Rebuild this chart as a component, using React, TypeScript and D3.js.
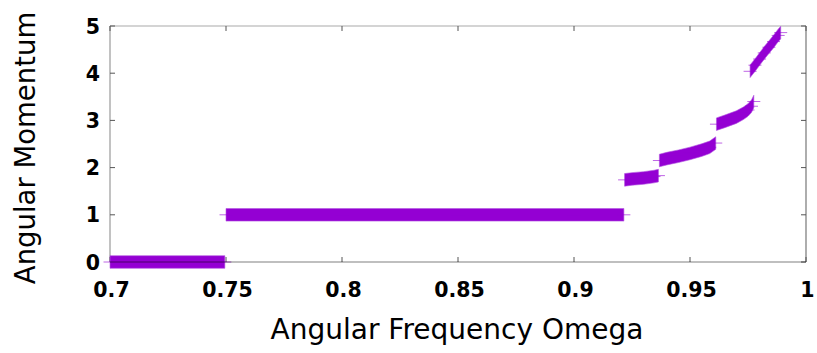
import React, { useEffect, useRef } from 'react'
import * as d3 from 'd3'

// branches of the angular momentum vs omega curve, [omega, L]
const branch0: [number, number][] = [[0.7, 0], [0.72, 0], [0.74, 0], [0.7495, 0]]
const branch1: [number, number][] = [[0.75, 1], [0.8, 1], [0.85, 1], [0.9, 1], [0.9215, 1]]
const branch2: [number, number][] = [
  [0.9218, 1.74], [0.925, 1.76], [0.93, 1.78], [0.9345, 1.81], [0.9364, 1.83],
]
const branch3: [number, number][] = [
  [0.9368, 2.15], [0.94, 2.19], [0.945, 2.24], [0.95, 2.3], [0.955, 2.37], [0.9585, 2.43], [0.9611, 2.52],
]
const branch4: [number, number][] = [
  [0.9614, 2.92], [0.965, 2.98], [0.97, 3.07], [0.973, 3.15], [0.975, 3.22], [0.9765, 3.3], [0.9775, 3.4],
]
const branch5: [number, number][] = [
  [0.9759, 4.04], [0.978, 4.17], [0.98, 4.3], [0.982, 4.43], [0.984, 4.55], [0.986, 4.67], [0.988, 4.8], [0.9891, 4.86],
]
const branches = [branch0, branch1, branch2, branch3, branch4, branch5]

const xTicks = [0.7, 0.75, 0.8, 0.85, 0.9, 0.95, 1]
const xTickLabels = ['0.7', '0.75', '0.8', '0.85', '0.9', '0.95', '1']
const yTicks = [0, 1, 2, 3, 4, 5]

const VIOLET = '#9400d3'

export default function App() {
  const ref = useRef<SVGSVGElement>(null)

  useEffect(() => {
    const svg = d3.select(ref.current)
    svg.selectAll('*').remove()

    const left = 110, right = 806, top = 26, bottom = 262
    const x = d3.scaleLinear().domain([0.7, 1]).range([left, right])
    const y = d3.scaleLinear().domain([0, 5]).range([bottom, top])

    // frame
    const frame = svg.append('g').attr('fill', 'none').attr('stroke-width', 1.2)
    frame.append('line').attr('x1', left).attr('x2', right).attr('y1', top).attr('y2', top).attr('stroke', '#aaa')
    frame.append('line').attr('x1', left).attr('x2', left).attr('y1', top).attr('y2', bottom).attr('stroke', '#999')
    frame.append('line').attr('x1', right).attr('x2', right).attr('y1', top).attr('y2', bottom).attr('stroke', '#777')

    // ticks
    const ticks = svg.append('g').attr('stroke', '#555').attr('stroke-width', 1)
    xTicks.forEach(t => {
      ticks.append('line').attr('x1', x(t)).attr('x2', x(t)).attr('y1', bottom).attr('y2', bottom - 5)
      ticks.append('line').attr('x1', x(t)).attr('x2', x(t)).attr('y1', top).attr('y2', top + 5)
    })
    yTicks.forEach(t => {
      ticks.append('line').attr('x1', left).attr('x2', left + 5).attr('y1', y(t)).attr('y2', y(t))
      ticks.append('line').attr('x1', right).attr('x2', right - 5).attr('y1', y(t)).attr('y2', y(t))
    })

    // data: dense '+' points form a band
    const area = d3.area<[number, number]>()
      .x(d => x(d[0]))
      .y0(d => y(d[1]) + 6.3)
      .y1(d => y(d[1]) - 6.3)

    const data = svg.append('g')
    branches.forEach(b => {
      data.append('path').attr('d', area(b)).attr('fill', VIOLET)
        .attr('stroke', '#b255e0').attr('stroke-width', 0.6)
      data.selectAll(null).data(b).enter().append('line')
        .attr('x1', d => x(d[0]) - 6.5).attr('x2', d => x(d[0]) + 6.5)
        .attr('y1', d => y(d[1])).attr('y2', d => y(d[1]))
        .attr('stroke', VIOLET).attr('stroke-opacity', 0.6).attr('stroke-width', 1)
    })

    // bottom border / zero axis drawn over the data
    svg.append('line').attr('x1', left).attr('x2', right).attr('y1', bottom).attr('y2', bottom)
      .attr('stroke', '#000').attr('stroke-opacity', 0.5).attr('stroke-width', 1.2)

    // tick labels
    const lab = svg.append('g').attr('font-family', 'DejaVu Sans').attr('font-weight', 'bold')
      .attr('font-size', 20.5).attr('fill', '#000')
    xTicks.forEach((t, i) => {
      lab.append('text').attr('x', x(t) + 1.5).attr('y', 297).attr('text-anchor', 'middle').text(xTickLabels[i])
    })
    yTicks.forEach(t => {
      lab.append('text').attr('x', 100).attr('y', y(t) + 7.5).attr('text-anchor', 'end').text(String(t))
    })

    // axis titles
    svg.append('text').attr('x', 457).attr('y', 339).attr('text-anchor', 'middle')
      .attr('font-family', 'DejaVu Sans').attr('font-size', 28).text('Angular Frequency Omega')
    svg.append('text').attr('transform', 'translate(35,148) rotate(-90)').attr('text-anchor', 'middle')
      .attr('font-family', 'DejaVu Sans').attr('font-size', 27.5).text('Angular Momentum')
  }, [])

  return (
    <svg ref={ref} width={817} height={353}
      style={{ position: 'absolute', left: 0, top: 0, background: '#fff' }} />
  )
}
